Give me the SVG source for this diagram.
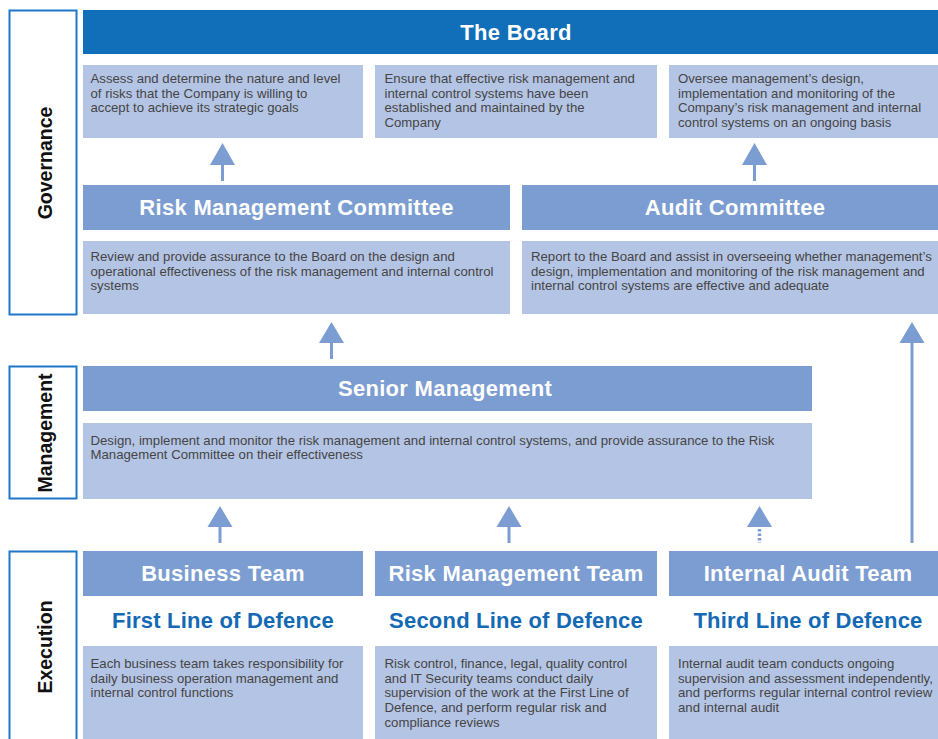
<svg xmlns="http://www.w3.org/2000/svg" width="938" height="739" viewBox="0 0 938 739">
  <defs>
    <style>
      .tier { fill: #ffffff; stroke: #1f77c9; stroke-width: 2; }
      .tier-label { font-family: "Liberation Sans", Arial, sans-serif; font-weight: bold; font-size: 19.5px; fill: #111111; text-anchor: middle; }
      .board { fill: #116eb8; }
      .head { fill: #7c9dd2; }
      .body { fill: #b4c4e4; }
      .title { font-family: "Liberation Sans", Arial, sans-serif; font-weight: bold; font-size: 22px; letter-spacing: 0.3px; fill: #ffffff; text-anchor: middle; }
      .line-title { font-family: "Liberation Sans", Arial, sans-serif; font-weight: bold; font-size: 22px; letter-spacing: 0.2px; fill: #1469b4; text-anchor: middle; }
      .desc { font-family: "Liberation Sans", Arial, sans-serif; font-size: 13.2px; fill: #454545; }
      .stem { stroke: #7c9dd2; stroke-width: 3; fill: none; }
      .stem-dot { stroke: #7c9dd2; stroke-width: 3.5; stroke-dasharray: 2.5 2; fill: none; }
      .tip { fill: #7c9dd2; }
    </style>
  </defs>

  <!-- Tier labels on the left -->
  <g id="tier-governance">
    <rect class="tier" x="9.5" y="10.5" width="67" height="304"/>
    <text class="tier-label" transform="translate(51.5,163) rotate(-90)">Governance</text>
  </g>
  <g id="tier-management">
    <rect class="tier" x="9.5" y="366.5" width="67" height="132"/>
    <text class="tier-label" transform="translate(51.5,433) rotate(-90)">Management</text>
  </g>
  <g id="tier-execution">
    <rect class="tier" x="9.5" y="551.5" width="67" height="200"/>
    <text class="tier-label" transform="translate(51.5,647) rotate(-90)">Execution</text>
  </g>

  <!-- The Board -->
  <g id="board">
    <rect class="board" x="83" y="10" width="866" height="44"/>
    <text class="title" x="516" y="40">The Board</text>
  </g>
  <g id="board-duty-1">
    <rect class="body" x="83" y="65" width="280" height="73"/>
    <text class="desc" x="90.5" y="83"><tspan x="90.5">Assess and determine the nature and level</tspan><tspan x="90.5" dy="14.5">of risks that the Company is willing to</tspan><tspan x="90.5" dy="14.5">accept to achieve its strategic goals</tspan></text>
  </g>
  <g id="board-duty-2">
    <rect class="body" x="375" y="65" width="282" height="73"/>
    <text class="desc" x="384.5" y="83"><tspan x="384.5">Ensure that effective risk management and</tspan><tspan x="384.5" dy="14.5">internal control systems have been</tspan><tspan x="384.5" dy="14.5">established and maintained by the</tspan><tspan x="384.5" dy="14.5">Company</tspan></text>
  </g>
  <g id="board-duty-3">
    <rect class="body" x="669" y="65" width="280" height="73"/>
    <text class="desc" x="678" y="83"><tspan x="678">Oversee management’s design,</tspan><tspan x="678" dy="14.5">implementation and monitoring of the</tspan><tspan x="678" dy="14.5">Company’s risk management and internal</tspan><tspan x="678" dy="14.5">control systems on an ongoing basis</tspan></text>
  </g>

  <!-- Committees -->
  <g id="risk-management-committee">
    <rect class="head" x="83" y="185" width="427" height="45"/>
    <text class="title" x="296.5" y="215">Risk Management Committee</text>
    <rect class="body" x="83" y="241" width="427" height="73"/>
    <text class="desc" x="90.5" y="261"><tspan x="90.5">Review and provide assurance to the Board on the design and</tspan><tspan x="90.5" dy="14.6">operational effectiveness of the risk management and internal control</tspan><tspan x="90.5" dy="14.6">systems</tspan></text>
  </g>
  <g id="audit-committee">
    <rect class="head" x="522" y="185" width="427" height="45"/>
    <text class="title" x="735" y="215">Audit Committee</text>
    <rect class="body" x="522" y="241" width="427" height="73"/>
    <text class="desc" x="531" y="261"><tspan x="531">Report to the Board and assist in overseeing whether management’s</tspan><tspan x="531" dy="14.6">design, implementation and monitoring of the risk management and</tspan><tspan x="531" dy="14.6">internal control systems are effective and adequate</tspan></text>
  </g>

  <!-- Senior Management -->
  <g id="senior-management">
    <rect class="head" x="83" y="366" width="729" height="45"/>
    <text class="title" x="445" y="395.5">Senior Management</text>
    <rect class="body" x="83" y="423" width="729" height="76"/>
    <text class="desc" x="90.5" y="444.5"><tspan x="90.5">Design, implement and monitor the risk management and internal control systems, and provide assurance to the Risk</tspan><tspan x="90.5" dy="14.8">Management Committee on their effectiveness</tspan></text>
  </g>

  <!-- Execution teams -->
  <g id="business-team">
    <rect class="head" x="83" y="551" width="280" height="45"/>
    <text class="title" x="223" y="580.5">Business Team</text>
    <text class="line-title" x="223" y="627.5">First Line of Defence</text>
    <rect class="body" x="83" y="646" width="280" height="100"/>
    <text class="desc" x="90.5" y="668"><tspan x="90.5">Each business team takes responsibility for</tspan><tspan x="90.5" dy="14.7">daily business operation management and</tspan><tspan x="90.5" dy="14.7">internal control functions</tspan></text>
  </g>
  <g id="risk-management-team">
    <rect class="head" x="375" y="551" width="282" height="45"/>
    <text class="title" x="516" y="580.5">Risk Management Team</text>
    <text class="line-title" x="516" y="627.5">Second Line of Defence</text>
    <rect class="body" x="375" y="646" width="282" height="100"/>
    <text class="desc" x="384.5" y="668"><tspan x="384.5">Risk control, finance, legal, quality control</tspan><tspan x="384.5" dy="14.7">and IT Security teams conduct daily</tspan><tspan x="384.5" dy="14.7">supervision of the work at the First Line of</tspan><tspan x="384.5" dy="14.7">Defence, and perform regular risk and</tspan><tspan x="384.5" dy="14.7">compliance reviews</tspan></text>
  </g>
  <g id="internal-audit-team">
    <rect class="head" x="669" y="551" width="280" height="45"/>
    <text class="title" x="808" y="580.5">Internal Audit Team</text>
    <text class="line-title" x="808" y="627.5">Third Line of Defence</text>
    <rect class="body" x="669" y="646" width="280" height="100"/>
    <text class="desc" x="678" y="668"><tspan x="678">Internal audit team conducts ongoing</tspan><tspan x="678" dy="14.7">supervision and assessment independently,</tspan><tspan x="678" dy="14.7">and performs regular internal control review</tspan><tspan x="678" dy="14.7">and internal audit</tspan></text>
  </g>

  <!-- Upward reporting arrows -->
  <g id="connectors">
    <line class="stem" x1="222.5" y1="181" x2="222.5" y2="163"/>
    <polygon class="tip" points="222.5,143 235,165 210,165"/>

    <line class="stem" x1="754.5" y1="181" x2="754.5" y2="163"/>
    <polygon class="tip" points="754.5,143 767,165 742,165"/>

    <line class="stem" x1="331.5" y1="359" x2="331.5" y2="341"/>
    <polygon class="tip" points="331.5,322 344,343 319,343"/>

    <line class="stem" x1="912" y1="543" x2="912" y2="341"/>
    <polygon class="tip" points="912,322 924.5,343 899.5,343"/>

    <line class="stem" x1="220" y1="543" x2="220" y2="525"/>
    <polygon class="tip" points="220,506 232.5,527 207.5,527"/>

    <line class="stem" x1="509" y1="543" x2="509" y2="525"/>
    <polygon class="tip" points="509,506 521.5,527 496.5,527"/>

    <line class="stem-dot" x1="759.5" y1="529" x2="759.5" y2="543"/>
    <polygon class="tip" points="759.5,506 772,527 747,527"/>
  </g>
</svg>
